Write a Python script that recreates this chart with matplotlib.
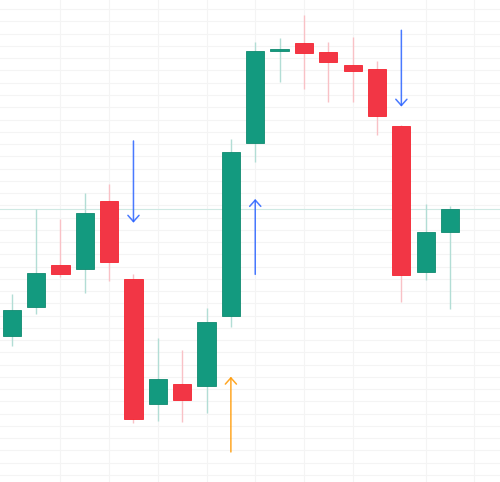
import matplotlib
matplotlib.use("Agg")
import matplotlib.pyplot as plt
import numpy as np

# Data (OHLC per candle)
opens  = [123.4, 147.3, 181.1, 178.1, 233.5, 169.9, 67.9, 84.3, 82.9, 140.0,
          280.6, 355.9, 362.4, 355.3, 344.2, 341.5, 294.5, 175.6, 208.5]
closes = [144.9, 174.6, 174.2, 224.0, 183.5, 55.5, 88.1, 71.2, 135.1, 273.3,
          356.1, 357.8, 354.5, 347.2, 339.6, 302.9, 173.4, 208.5, 227.3]
highs  = [157.4, 227.0, 218.9, 240.3, 247.4, 174.0, 122.0, 112.0, 146.0, 283.9,
          363.2, 366.2, 385.3, 363.0, 367.3, 347.7, 295.3, 231.1, 229.7]
lows   = [115.3, 141.4, 171.8, 158.2, 168.3, 52.2, 54.3, 53.3, 60.6, 131.0,
          265.3, 330.9, 324.7, 314.0, 314.5, 287.6, 151.4, 169.1, 145.7]

# Signal arrows: (candle index, tail price, head price, colour)
arrow_idx   = [5, 16, 10, 9]
arrow_tail  = [282.5, 372.8, 173.7, 28.8]
arrow_head  = [215.8, 310.5, 235.2, 90.2]
arrow_color = ["#2962ff", "#2962ff", "#2962ff", "#ff9800"]

# Vertical grid at time-label positions
vgrid_idx = [2, 4, 6, 8, 10, 12, 14, 17, 19]

up_body, up_wick, up_edge = "#139a7f", "#b2ddd5", "#0f8a70"
dn_body, dn_wick, dn_edge = "#f23645", "#f9c1c6", "#f5222f"

fig = plt.figure(figsize=(5, 4.82), dpi=100)
ax = fig.add_axes([0, 0, 1, 1])

x = np.arange(len(opens))
o = np.array(opens)
c = np.array(closes)
up = c >= o

# Grid
for yv in np.arange(0, 400, 10):
    ax.axhline(yv, color="#f4f4f4", lw=0.8, zorder=0)
for xv in vgrid_idx:
    ax.axvline(xv, color="#f4f4f4", lw=0.8, zorder=0)

# Last price line
ax.axhline(closes[-1], color="#cfe9e3", lw=0.8, zorder=0.5)

# Wicks
ax.vlines(x, lows, highs, colors=np.where(up, up_wick, dn_wick), lw=1.0, zorder=1)

# Bodies
ax.bar(x, np.abs(c - o), bottom=np.minimum(o, c), width=0.75,
       color=np.where(up, up_body, dn_body),
       edgecolor=np.where(up, up_edge, dn_edge), linewidth=0.6, zorder=2)

# Arrows
for i, t, h, col in zip(arrow_idx, arrow_tail, arrow_head, arrow_color):
    ax.annotate("", xy=(i, h), xytext=(i, t),
                arrowprops=dict(arrowstyle="->,head_length=0.45,head_width=0.4",
                                color=col, lw=1.1, alpha=0.85,
                                shrinkA=0, shrinkB=0), zorder=3)

ax.set_xlim(-0.48, 20.05)
ax.set_ylim(4.3, 397.5)
ax.axis("off")

fig.savefig("out.png", dpi=100, facecolor="white")
